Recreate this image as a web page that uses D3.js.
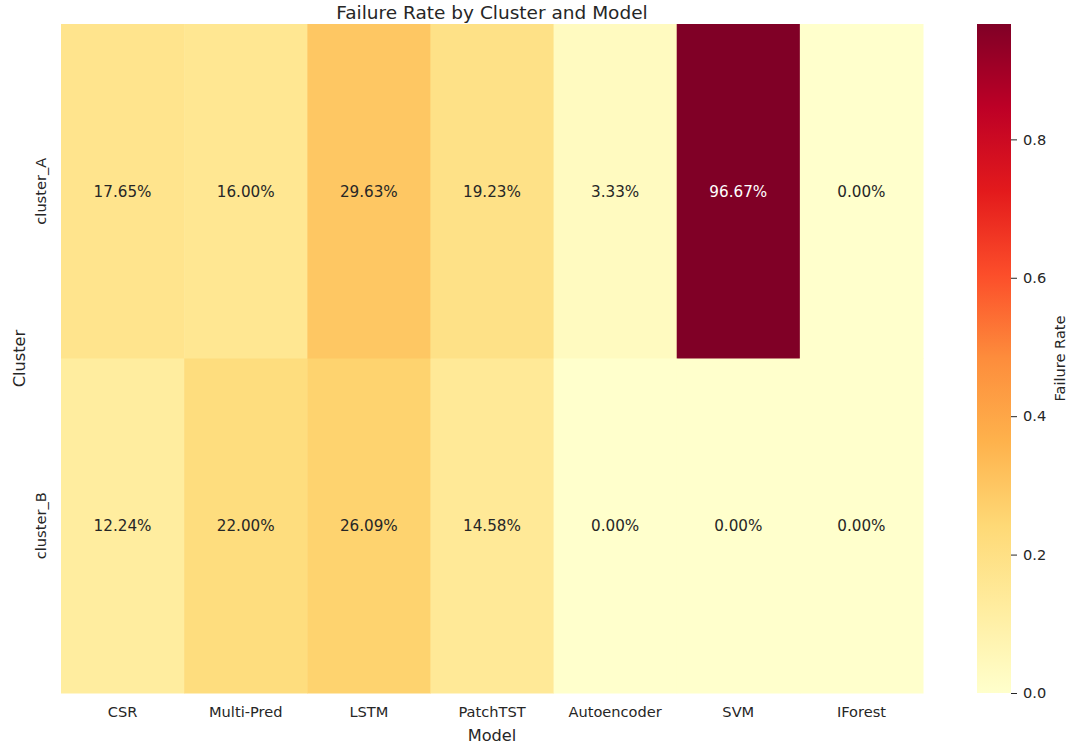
<!DOCTYPE html>
<meta charset="utf-8">
<style>
body { margin: 0; background: #fff; }
text { font-family: "DejaVu Sans", sans-serif; fill: #262626; }
</style>
<body>
<svg width="1070" height="747"></svg>
<script src="https://d3js.org/d3.v7.min.js"></script>
<script>

// data
var models = ["CSR", "Multi-Pred", "LSTM", "PatchTST", "Autoencoder", "SVM", "IForest"];
var clusters = ["cluster_A", "cluster_B"];
var clusterA = [0.1765, 0.1600, 0.2963, 0.1923, 0.0333, 0.9667, 0.0000];
var clusterB = [0.1224, 0.2200, 0.2609, 0.1458, 0.0000, 0.0000, 0.0000];
var cbarTicks = [0.0, 0.2, 0.4, 0.6, 0.8];

var rows = [clusterA, clusterB];
var cells = [];
rows.forEach(function(r, i) {
  r.forEach(function(v, j) {
    cells.push({cluster: clusters[i], model: models[j], value: v});
  });
});

var svg = d3.select("svg");
var plot = {left: 61, right: 923, top: 24, bottom: 693};

var x = d3.scaleBand().domain(models).range([plot.left, plot.right]).padding(0);
var y = d3.scaleBand().domain(clusters).range([plot.top, plot.bottom]).padding(0);

var vmax = d3.max(cells, function(d) { return d.value; });
// matplotlib YlOrRd stops (linear segments)
var stops = ["#ffffcc","#ffeda0","#fed976","#feb24c","#fd8d3c","#fc4e2a","#e31a1c","#bd0026","#800026"];
var color = d3.scaleLinear()
    .domain(stops.map(function(s, i) { return vmax * i / (stops.length - 1); }))
    .range(stops)
    .interpolate(d3.interpolateRgb)
    .clamp(true);

// cells
svg.append("g").selectAll("rect")
  .data(cells)
  .enter().append("rect")
    .attr("x", function(d) { return x(d.model); })
    .attr("y", function(d) { return y(d.cluster); })
    .attr("width", x.bandwidth() + 0.5)
    .attr("height", y.bandwidth() + 0.5)
    .attr("fill", function(d) { return color(d.value); });

// annotations
svg.append("g").selectAll("text")
  .data(cells)
  .enter().append("text")
    .attr("x", function(d) { return x(d.model) + x.bandwidth() / 2; })
    .attr("y", function(d) { return y(d.cluster) + y.bandwidth() / 2; })
    .attr("dy", "0.36em")
    .attr("text-anchor", "middle")
    .style("font-size", "15.2px")
    .style("fill", function(d) { return d.value / vmax > 0.6 ? "#ffffff" : "#262626"; })
    .text(function(d) { return (d.value * 100).toFixed(2) + "%"; });

// x axis
var gx = svg.append("g")
    .attr("transform", "translate(0," + plot.bottom + ")")
    .call(d3.axisBottom(x).tickSize(0).tickPadding(14));
gx.select(".domain").remove();
gx.selectAll("text").style("font-size", "14.6px").style("fill", "#262626").style("font-family", "DejaVu Sans");

// y axis (vertical labels)
svg.append("g").selectAll("text")
  .data(clusters)
  .enter().append("text")
    .attr("transform", function(d) { return "translate(46," + (y(d) + y.bandwidth() / 2) + ") rotate(-90)"; })
    .attr("text-anchor", "middle")
    .style("font-size", "14.6px")
    .text(function(d) { return d; });

// axis labels and title
svg.append("text")
    .attr("x", (plot.left + plot.right) / 2)
    .attr("y", 741)
    .attr("text-anchor", "middle")
    .style("font-size", "16.2px")
    .text("Model");

svg.append("text")
    .attr("transform", "translate(25," + (plot.top + plot.bottom) / 2 + ") rotate(-90)")
    .attr("text-anchor", "middle")
    .style("font-size", "16.2px")
    .text("Cluster");

svg.append("text")
    .attr("x", (plot.left + plot.right) / 2)
    .attr("y", 19)
    .attr("text-anchor", "middle")
    .style("font-size", "18.5px")
    .text("Failure Rate by Cluster and Model");

// colorbar
var cb = {left: 977, right: 1011, top: 24, bottom: 693};
var cy = d3.scaleLinear().domain([0, vmax]).range([cb.bottom, cb.top]);

var defs = svg.append("defs");
var grad = defs.append("linearGradient")
    .attr("id", "cbar")
    .attr("x1", 0).attr("y1", 1).attr("x2", 0).attr("y2", 0);
grad.selectAll("stop")
  .data(stops)
  .enter().append("stop")
    .attr("offset", function(d, i) { return i / (stops.length - 1); })
    .attr("stop-color", function(d) { return d; });

svg.append("rect")
    .attr("x", cb.left)
    .attr("y", cb.top)
    .attr("width", cb.right - cb.left)
    .attr("height", cb.bottom - cb.top)
    .attr("fill", "url(#cbar)");

var gc = svg.append("g")
    .attr("transform", "translate(" + cb.right + ",0)")
    .call(d3.axisRight(cy).tickValues(cbarTicks).tickFormat(d3.format(".1f")).tickSize(6).tickPadding(6));
gc.select(".domain").remove();
gc.selectAll("line").attr("stroke", "#262626");
gc.selectAll("text").style("font-size", "14.6px").style("fill", "#262626").style("font-family", "DejaVu Sans");

svg.append("text")
    .attr("transform", "translate(1065," + (cb.top + cb.bottom) / 2 + ") rotate(-90)")
    .attr("text-anchor", "middle")
    .style("font-size", "14.6px")
    .text("Failure Rate");

</script>
</body>
